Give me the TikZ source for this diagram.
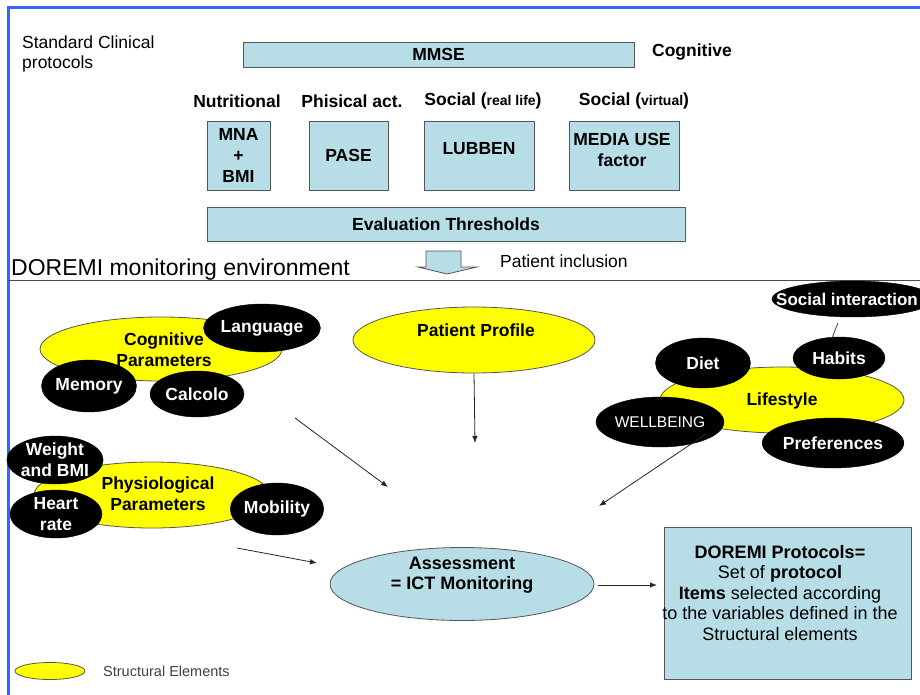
\documentclass[tikz,border=0pt]{standalone}
\usepackage{fontspec}
\setmainfont{Liberation Sans}
\usetikzlibrary{shapes.geometric,arrows.meta}
\definecolor{lblue}{RGB}{183,222,230}
\definecolor{frameblue}{RGB}{51,102,255}
\definecolor{boxline}{RGB}{85,85,85}
\definecolor{yelfill}{RGB}{255,255,0}
\newcommand{\fbold}{\fontsize{17.5}{21}\selectfont\bfseries}
\tikzset{
  tbox/.style={draw=boxline, fill=lblue, inner sep=0pt, line width=0.8pt},
  hdr/.style={font=\fbold, inner sep=0pt},
  yellip/.style={ellipse, draw=boxline, fill=yelfill, inner sep=0pt, line width=0.8pt},
  bellip/.style={ellipse, draw=black, fill=black, text=white, inner sep=0pt, font=\fbold, align=center},
  btxt/.style={font=\fbold, inner sep=0pt, align=center},
  conn/.style={draw=black!85, line width=0.8pt, -{Latex[length=7pt,width=5.5pt]}},
  plainline/.style={draw=black!75, line width=0.8pt},
}
\begin{document}
\begin{tikzpicture}[x=1pt,y=-1pt]
\useasboundingbox (0,0) rectangle (920,695);
\clip (0,0) rectangle (920,695);
\fill[white] (0,0) rectangle (920,695);
\draw[frameblue, line width=2.2pt] (8.5,695) -- (8.5,7.5) -- (920,7.5);

% ---------- upper part ----------
\node[anchor=west, align=left, inner sep=0pt, font=\fontsize{17.5}{20.5}\selectfont] (std) at (22,54) {Standard Clinical\\protocols};
\node[tbox, minimum width=391pt, minimum height=25pt, font=\fbold] (mmse) at (438.5,54.5) {MMSE};
\node[hdr] (cogn) at (692,52) {Cognitive};

\node[hdr] (hn) at (237,101) {Nutritional};
\node[hdr] (hp) at (352,101) {Phisical act.};
\node[hdr] (hs) at (483,101) {Social ({\fontsize{14}{16}\selectfont real life})};
\node[hdr] (hv) at (634,101) {Social ({\fontsize{14}{16}\selectfont virtual})};

\node[tbox, minimum width=63pt, minimum height=69pt, font=\fbold, align=center] (mna) at (238.5,155.5) {MNA\\+\\BMI};
\node[tbox, minimum width=79pt, minimum height=69pt, font=\fbold] (pase) at (348.5,155.5) {PASE};
\node[tbox, minimum width=110pt, minimum height=69pt] (lub) at (479,155.5) {};
\node[btxt] (lubt) at (479,149) {LUBBEN};
\node[tbox, minimum width=110pt, minimum height=69pt] (media) at (624,155.5) {};
\node[btxt] (mediat) at (622,149.5) {MEDIA USE\\factor};

\node[tbox, minimum width=478pt, minimum height=34pt, font=\fbold] (eval) at (446,224) {Evaluation Thresholds};

\draw[draw=boxline, fill=lblue, line width=0.8pt] (426,251) -- (461,251) -- (461,267) -- (477,267) -- (447,274) -- (418,267) -- (426,267) -- cycle;
\node[anchor=west, inner sep=0pt, font=\fontsize{17.5}{20}\selectfont] (incl) at (500,261) {Patient inclusion};
\node[anchor=west, inner sep=0pt, font=\fontsize{23}{27}\selectfont] (env) at (11,270) {DOREMI monitoring environment};
\draw[black!70, line width=1pt] (8,280.5) -- (920,280.5);

% ---------- lower part ----------
% Cognitive parameters
\node[yellip, minimum width=242pt, minimum height=64pt] (cog) at (161,349) {};
\node[btxt] (cogt) at (164,350) {Cognitive\\Parameters};
\node[bellip, minimum width=94pt, minimum height=48pt] (lang) at (262,328) {Language};
\node[bellip, minimum width=95pt, minimum height=52pt] (mem) at (89,386) {Memory};
\node[bellip, minimum width=94pt, minimum height=46pt] (calc) at (197,394) {Calcolo};

% Patient profile
\node[yellip, minimum width=242pt, minimum height=66pt] (pp) at (474,340) {};
\node[btxt] (ppt) at (476,330) {Patient Profile};

% Lifestyle
\node[yellip, minimum width=244pt, minimum height=66pt] (life) at (782,400) {};
\node[btxt] (lifet) at (782,401) {Lifestyle};
\node[bellip, minimum width=95pt, minimum height=50pt] (diet) at (703,363) {Diet};
\node[bellip, minimum width=92pt, minimum height=42pt] (hab) at (839,358) {Habits};
\node[bellip, minimum width=162pt, minimum height=36pt] (soc) at (853,299) {};
\node[btxt, text=white, font=\fontsize{17}{20}\selectfont\bfseries] (soct) at (847,299) {Social interaction};
\node[bellip, minimum width=94pt, minimum height=50pt, font=\fontsize{15.5}{18}\selectfont] (wb) at (660,422) {WELLBEING};
\node[bellip, minimum width=110pt, minimum height=50pt] (pref) at (833,443) {Preferences};

% Physiological parameters
\node[yellip, minimum width=236pt, minimum height=66pt] (phys) at (152,495) {};
\node[btxt] (physt) at (158,494) {Physiological\\Parameters};
\node[bellip, minimum width=92pt, minimum height=48pt] (wgt) at (55,460) {Weight\\and BMI};
\node[bellip, minimum width=92pt, minimum height=48pt] (hr) at (56,514) {Heart\\rate};
\node[bellip, minimum width=93pt, minimum height=52pt] (mob) at (277,509) {Mobility};

% Assessment
\node[ellipse, draw=boxline, fill=lblue, line width=0.8pt, inner sep=0pt, minimum width=264pt, minimum height=73pt] (as) at (462,584) {};
\node[btxt, font=\fontsize{18}{20}\selectfont\bfseries] (ast) at (462,575) {Assessment\\= ICT Monitoring};

% DOREMI protocols
\node[tbox, minimum width=247pt, minimum height=152pt] (dp) at (787.5,603) {};
\node[font=\fontsize{18}{20.5}\selectfont, align=center, inner sep=0pt] (dpt) at (780,593) {\textbf{DOREMI Protocols=}\\Set of \textbf{protocol}\\\textbf{Items} selected according\\to the variables defined in the\\Structural elements};

% legend
\node[yellip, minimum width=70pt, minimum height=17pt] (leg) at (50,671) {};
\node[anchor=west, inner sep=0pt, font=\fontsize{14.5}{17}\selectfont, text=black!75] (legt) at (103,671) {Structural Elements};

% connectors
\coordinate (a1s) at (295,418);
\coordinate (a1e) at (388,487);
\draw[conn] (a1s) -- (a1e);
\coordinate (a2e) at (475,443);
\draw[conn] (pp.south) -- (a2e);
\coordinate (a3s) at (706,434);
\coordinate (a3e) at (599,506);
\draw[conn] (a3s) -- (a3e);
\coordinate (a4s) at (237,548);
\coordinate (a4e) at (317,563);
\draw[conn] (a4s) -- (a4e);
\coordinate (a5s) at (598,585);
\coordinate (a5e) at (657,585);
\draw[conn] (a5s) -- (a5e);
\coordinate (s1) at (838,323);
\coordinate (s2) at (832,338);
\draw[plainline] (s1) -- (s2);
\end{tikzpicture}
\end{document}
